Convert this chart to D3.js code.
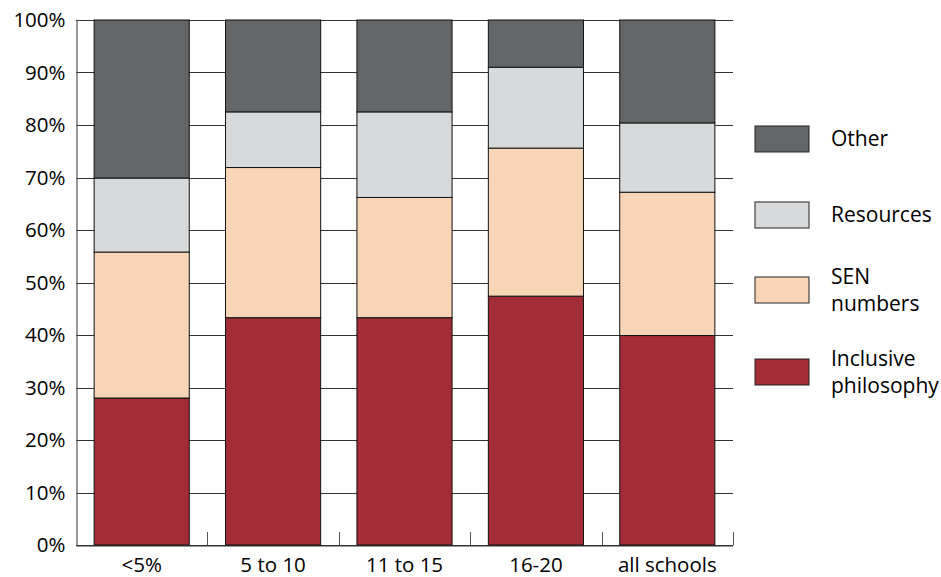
<!DOCTYPE html>
<html><head><meta charset="utf-8">
<script src="https://cdn.jsdelivr.net/npm/d3@7"></script>
<style>body{margin:0;background:#fff}svg{display:block}text{font-family:"Open Sans","Noto Sans",sans-serif;fill:#000}</style>
</head><body><svg id="c" width="941" height="577"></svg>
<script>
const categories = ["<5%", "5 to 10", "11 to 15", "16-20", "all schools"];
const seriesNames = ["Inclusive philosophy", "SEN numbers", "Resources", "Other"];
const inclusive = [28.0, 43.3, 43.3, 47.4, 39.9];
const sen = [27.8, 28.6, 22.9, 28.2, 27.3];
const resources = [14.1, 10.6, 16.3, 15.4, 13.2];
const other = [30.1, 17.5, 17.5, 9.0, 19.6];
const yTicks = [0, 10, 20, 30, 40, 50, 60, 70, 80, 90, 100];
const colors = ["#a32d37", "#f8d5b7", "#d8d9db", "#646567"];

const svg = d3.select("#c");
const x0 = 76, x1 = 733, yTop = 20, yBot = 545;
const x = d3.scaleBand().domain(categories).range([x0, x1]).paddingInner(0.276).paddingOuter(0.138);
const y = d3.scaleLinear().domain([0, 100]).range([yBot, yTop]);

const table = categories.map((c, i) => ({cat: c, s0: inclusive[i], s1: sen[i], s2: resources[i], s3: other[i]}));
const stack = d3.stack().keys(["s0", "s1", "s2", "s3"]);
const layers = stack(table);

// gridlines
svg.append("g").selectAll("line").data(yTicks).join("line")
  .attr("x1", x0).attr("x2", x1).attr("y1", d => Math.round(y(d)) + 0.5).attr("y2", d => Math.round(y(d)) + 0.5)
  .attr("stroke", "#333").attr("stroke-width", 1);

// y axis
const yAxis = d3.axisLeft(y).tickValues(yTicks).tickFormat(d => d + "%").tickSize(0).tickPadding(11);
const gy = svg.append("g").attr("transform", `translate(${x0 + 0.5},0)`).call(yAxis);
gy.select(".domain").attr("stroke", "#555").attr("stroke-width", 1.2);
gy.selectAll("text").style("font-size", "20.5px").attr("fill", "#000");

// bars
svg.append("g").selectAll("g").data(layers).join("g")
  .attr("fill", (d, i) => colors[i])
  .selectAll("rect").data(d => d).join("rect")
  .attr("x", d => x(d.data.cat)).attr("width", x.bandwidth())
  .attr("y", d => y(d[1])).attr("height", d => y(d[0]) - y(d[1]))
  .attr("stroke", "#111").attr("stroke-width", 1);

// x axis
const xAxis = d3.axisBottom(x).tickSize(0).tickPadding(12);
const gx = svg.append("g").attr("transform", `translate(0,${yBot + 0.5})`).call(xAxis);
gx.select(".domain").attr("stroke", "#333").attr("stroke-width", 1.2);
gx.selectAll("text").style("font-size", "20.5px").attr("fill", "#000");

// inward separator ticks between categories
const sepTicks = categories.map((c, i) => x(c) + x.bandwidth() + x.step() * x.paddingInner() / 2);
svg.append("g").selectAll("line").data(sepTicks).join("line")
  .attr("x1", d => Math.round(d) + 0.5).attr("x2", d => Math.round(d) + 0.5)
  .attr("y1", yBot).attr("y2", yBot - 13).attr("stroke", "#555").attr("stroke-width", 1);

// legend
const legendTop = [126, 202, 277, 359];
const legendLabels = [["Other"], ["Resources"], ["SEN", "numbers"], ["Inclusive", "philosophy"]];
const legendColors = [colors[3], colors[2], colors[1], colors[0]];
const lg = svg.append("g");
legendTop.forEach((t, i) => {
  lg.append("rect").attr("x", 755).attr("y", t).attr("width", 54).attr("height", 26)
    .attr("fill", legendColors[i]).attr("stroke", "#222").attr("stroke-width", 1);
  const lines = legendLabels[i];
  const cy = t + 13;
  lines.forEach((s, j) => {
    lg.append("text").attr("x", 831).attr("y", cy + (j - (lines.length - 1) / 2) * 27 + 7)
      .style("font-size", "21px").text(s);
  });
});
</script></body></html>
